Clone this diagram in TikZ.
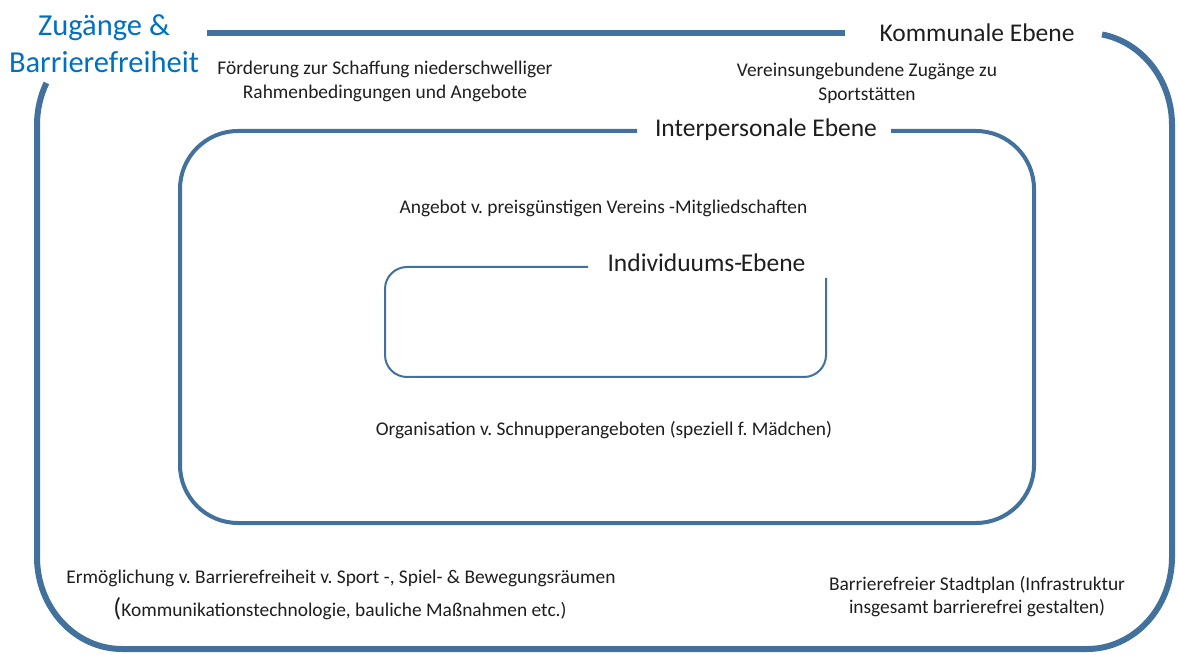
\documentclass[tikz,border=0pt]{standalone}
\usepackage{fontspec}
\setmainfont{Carlito}
\frenchspacing
\definecolor{frame}{RGB}{65,113,156}
\definecolor{titleblue}{RGB}{0,112,192}
\definecolor{txt}{RGB}{30,30,30}
\begin{document}
\frenchspacing
\begin{tikzpicture}[x=1pt,y=1pt,
  outerline/.style={draw=frame,line width=6pt},
  midline/.style={draw=frame,line width=4pt},
  innerline/.style={draw=frame,line width=2pt},
  lbl/.style={font=\fontsize{19.4}{23.5}\selectfont,text=txt,align=center,inner sep=0pt},
  lvl/.style={font=\fontsize{25.5}{30}\selectfont,text=txt,inner sep=0pt},
  ttl/.style={font=\fontsize{30.5}{37}\selectfont,text=titleblue,align=center,inner sep=0pt}]
\useasboundingbox (0,0) rectangle (1178,654);
% outer frame (Kommunale Ebene)
\draw[outerline] ([shift={(152.8:85 and 92)}]122,529)
  arc[start angle=152.8,end angle=180,x radius=85,y radius=92] -- (37,97)
  arc[start angle=180,end angle=270,x radius=85,y radius=92] -- (1087,5)
  arc[start angle=270,end angle=360,x radius=85,y radius=92] -- (1172,529)
  arc[start angle=0,end angle=79.8,x radius=85,y radius=92];
\draw[outerline] (207,621) -- (845,621);
% interpersonal frame
\draw[midline] (637,523) -- (238,523)
  arc[start angle=90,end angle=180,radius=58] -- (180,189)
  arc[start angle=180,end angle=270,radius=58] -- (976,131)
  arc[start angle=270,end angle=360,radius=58] -- (1034,465)
  arc[start angle=0,end angle=90,radius=58] -- (891,523);
% individual frame
\draw[innerline] (588,387) -- (407,387)
  arc[start angle=90,end angle=180,radius=22] -- (385,299)
  arc[start angle=180,end angle=270,radius=22] -- (804,277)
  arc[start angle=270,end angle=360,radius=22] -- (826,376);
% texts
\node[ttl] (title) at (104,610.5) {Zugänge \&\\Barrierefreiheit};
\node[lvl] (komm) at (977,621) {Kommunale Ebene};
\node[lvl] (inter) at (766,524) {Interpersonale Ebene};
\node[lvl] (indiv) at (706.5,391) {Individuums-\kern-1.5pt Ebene};
\node[lbl] (foerd) at (385,572.5) {Förderung zur Schaffung niederschwelliger\\Rahmenbedingungen und Angebote};
\node[lbl] (verein) at (867,570.5) {Vereinsungebundene Zugänge zu\\Sportstätten};
\node[lbl] (angebot) at (603.5,446) {Angebot v. preisgünstigen Vereins -Mitgliedschaften};
\node[lbl] (org) at (604,224) {Organisation v. Schnupperangeboten (speziell f. Mädchen)};
\node[lbl] (erm1) at (341,76) {Ermöglichung v. Barrierefreiheit v. Sport -, Spiel- \& Bewegungsräumen};
\node[lbl] (erm2) at (340,45) {{\fontsize{26}{26}\selectfont(}Kommunikationstechnologie, bauliche Maßnahmen etc.)};
\node[lbl] (barr) at (977,57.5) {Barrierefreier Stadtplan (Infrastruktur\\insgesamt barrierefrei gestalten)};
\end{tikzpicture}
\end{document}
